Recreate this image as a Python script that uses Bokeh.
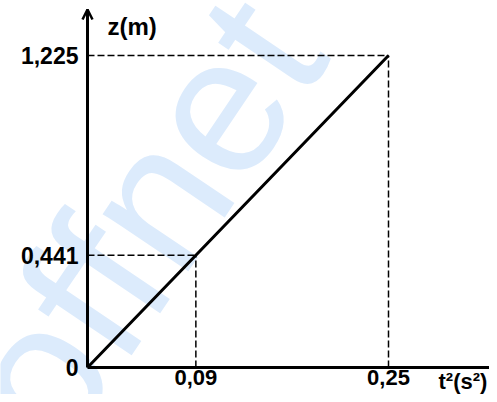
from bokeh.plotting import figure
from bokeh.models import FixedTicker, Range1d, Label, Arrow, OpenHead
from bokeh.embed import file_html
from bokeh.resources import INLINE

# ---- data ----
T2 = [0.0, 0.09, 0.25]          # t^2 (s^2)
Z = [0.0, 0.441, 1.225]         # z (m)
X_TICKS = [0.09, 0.25]
X_TICK_LABELS = ["0,09", "0,25"]
Y_TICKS = [0.0, 0.441, 1.225]
Y_TICK_LABELS = ["0", "0,441", "1,225"]
X_LABEL = "t²(s²)"
Y_LABEL = "z(m)"
WATERMARK = "offnet"

FONT = "Liberation Sans"
W, H = 489, 394

# pixel layout (canvas px): origin position and scale
OX, OY = 87, 367          # origin in canvas pixels
SX = (388 - OX) / 0.25    # px per unit of t^2
SY = (OY - 55) / 1.225    # px per unit of z


def dx(px):
    return (px - OX) / SX


def dy(py):
    return (OY - py) / SY


p = figure(width=W, height=H, output_backend="svg", toolbar_location=None,
           title=None,
           x_range=Range1d(dx(0), dx(W)), y_range=Range1d(dy(H), dy(0)),
           min_border_left=0, min_border_bottom=0, min_border_top=0,
           min_border_right=0)
p.outline_line_color = None
p.grid.visible = False
p.background_fill_color = "white"
p.border_fill_color = "white"

# watermark
p.add_layout(Label(x=dx(140), y=dy(220), text=WATERMARK, angle=56, angle_units="deg",
                   text_font=FONT, text_font_size="195px",
                   text_color="#dcebfc", text_align="center", text_baseline="alphabetic",
                   level="underlay"))

# dashed guide lines
zeros = [0.0 for _ in T2[1:]]
p.segment(x0=zeros, y0=Z[1:], x1=T2[1:], y1=Z[1:], line_color="black",
          line_width=1.5, line_dash="7 3")
p.segment(x0=T2[1:], y0=zeros, x1=T2[1:], y1=Z[1:], line_color="black",
          line_width=1.5, line_dash="7 3")

# main line
p.line(T2, Z, line_color="black", line_width=3)

# axes through the origin
y_top = dy(9)
for ax, ticks, labels in ((p.xaxis, X_TICKS, X_TICK_LABELS), (p.yaxis, Y_TICKS, Y_TICK_LABELS)):
    ax.fixed_location = 0
    ax.ticker = FixedTicker(ticks=ticks)
    ax.major_label_overrides = dict(zip(ticks, labels))
    ax.axis_line_width = 3
    ax.axis_line_color = "black"
    ax.major_tick_line_color = None
    ax.minor_tick_line_color = None
    ax.major_tick_out = 0
    ax.major_tick_in = 0
    ax.major_label_text_font = FONT
    ax.major_label_text_font_style = "bold"
    ax.major_label_text_color = "black"
p.xaxis.bounds = (0, dx(W))
p.yaxis.bounds = (0, y_top)
p.yaxis.major_label_text_font_size = "23px"
p.xaxis.major_label_text_font_size = "22px"
p.yaxis.major_label_standoff = 9
p.xaxis.major_label_standoff = 2

# y axis arrow head
p.add_layout(Arrow(end=OpenHead(size=10, line_width=2.5, line_color="black"),
                   x_start=0, y_start=dy(30), x_end=0, y_end=y_top,
                   line_width=3, line_color="black"))

# axis titles
p.add_layout(Label(x=dx(107), y=dy(26), text=Y_LABEL, text_font=FONT,
                   text_font_style="bold", text_font_size="24px",
                   text_color="black", text_baseline="alphabetic"))
p.add_layout(Label(x=dx(438), y=dy(381), text=X_LABEL, text_font=FONT,
                   text_font_style="bold", text_font_size="22px",
                   text_color="black", text_baseline="alphabetic"))

open("out.html", "w").write(file_html(p, INLINE))
